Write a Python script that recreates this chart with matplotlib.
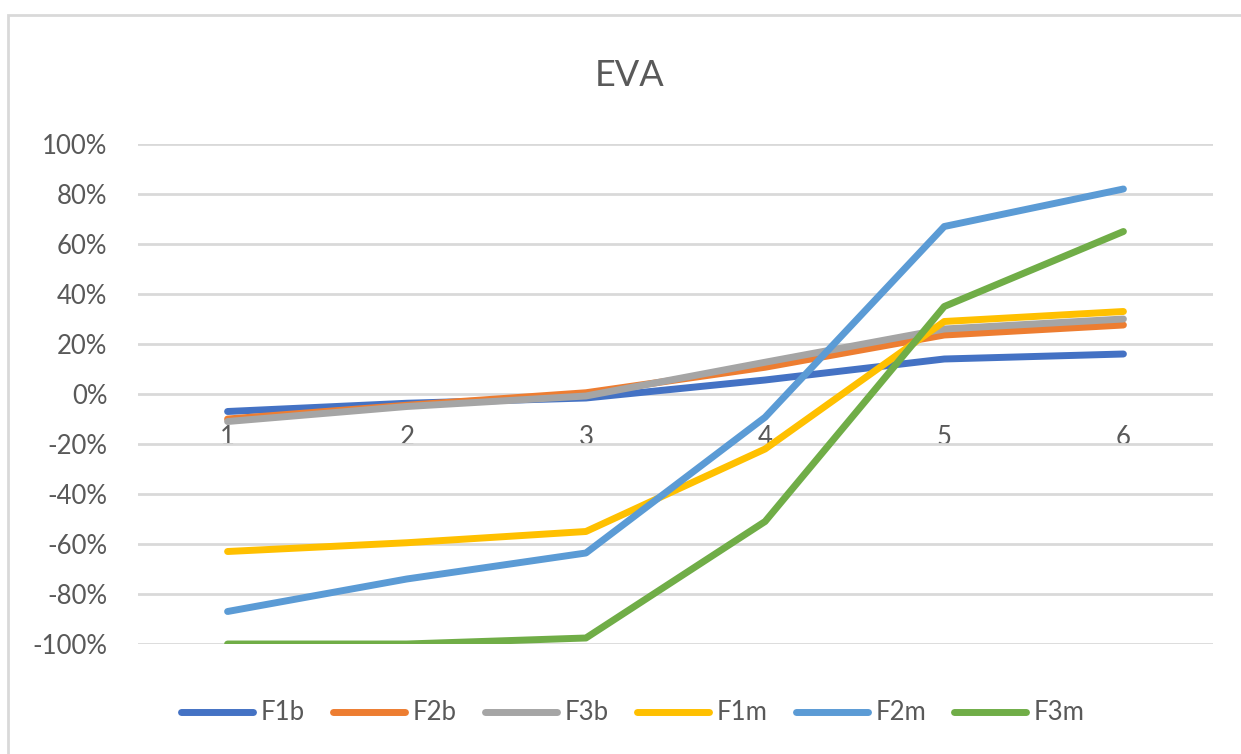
import matplotlib
matplotlib.use("Agg")
import matplotlib.pyplot as plt
from matplotlib.patches import Rectangle
from matplotlib.ticker import FuncFormatter

periods = [1, 2, 3, 4, 5, 6]
series_names = ["F1b", "F2b", "F3b", "F1m", "F2m", "F3m"]
F1b = [-0.07, -0.037, -0.016, 0.056, 0.14, 0.16]
F2b = [-0.10, -0.045, 0.005, 0.107, 0.236, 0.276]
F3b = [-0.11, -0.05, -0.008, 0.127, 0.26, 0.30]
F1m = [-0.63, -0.595, -0.55, -0.22, 0.29, 0.33]
F2m = [-0.87, -0.74, -0.636, -0.093, 0.67, 0.82]
F3m = [-1.00, -1.00, -0.976, -0.51, 0.35, 0.65]
y_ticks = [-1.0, -0.8, -0.6, -0.4, -0.2, 0.0, 0.2, 0.4, 0.6, 0.8, 1.0]
colors = ["#4472C4", "#ED7D31", "#A5A5A5", "#FFC000", "#5B9BD5", "#70AD47"]

plt.rcParams['font.family'] = ['Lato', 'DejaVu Sans']
text_color = "#595959"
grid_color = "#D9D9D9"

fig = plt.figure(figsize=(12.41, 7.54), dpi=100)
fig.patch.set_facecolor("white")

# chart border
fig.patches.append(Rectangle((8 / 1241, -0.05), 1.1, (754 - 15) / 754 + 0.05,
                             transform=fig.transFigure, fill=False,
                             edgecolor=grid_color, linewidth=2.0))

ax = fig.add_axes([138 / 1241, (754 - 644) / 754, 1075 / 1241, 500 / 754])
ax.set_facecolor("none")

for name, vals, c in zip(series_names, [F1b, F2b, F3b, F1m, F2m, F3m], colors):
    ax.plot(periods, vals, color=c, linewidth=5.0, solid_capstyle="round",
            solid_joinstyle="round", label=name, zorder=3)

ax.set_xlim(0.5, 6.5)
ax.set_ylim(-1.0, 1.0)
ax.set_yticks(y_ticks)
ax.yaxis.set_major_formatter(FuncFormatter(lambda v, p: f"{v * 100:.0f}%"))
ax.grid(axis="y", color=grid_color, linewidth=2.0, zorder=0)
ax.set_axisbelow(True)
for s in ax.spines.values():
    s.set_visible(False)
ax.spines['bottom'].set_position(('data', 0))
ax.set_xticks(periods)
ax.set_xticklabels([str(p) for p in periods])
ax.tick_params(axis="x", length=0, pad=22, labelsize=18.5, labelcolor=text_color)
ax.tick_params(axis="y", length=0, pad=22, labelsize=18.5, labelcolor=text_color)

fig.text(630 / 1241, 1 - 75 / 754, "EVA", ha="center", va="center",
         fontsize=26, color=text_color)

leg = fig.legend(loc="center", bbox_to_anchor=(633 / 1241, 1 - 713 / 754),
                 ncol=6, frameon=False, fontsize=18.5, handlelength=2.8,
                 handletextpad=0.3, columnspacing=1.1, labelcolor=text_color)
for h in leg.get_lines():
    h.set_linewidth(5.0)
    h.set_solid_capstyle("round")

fig.savefig("out.png", dpi=100, facecolor="white")
